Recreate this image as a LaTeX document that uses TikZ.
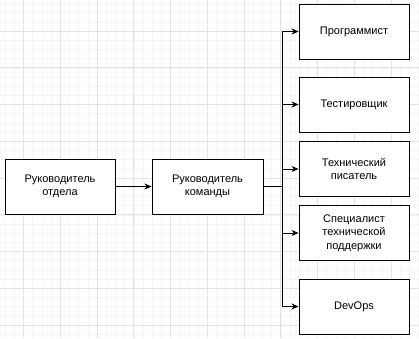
\documentclass[tikz,border=0pt]{standalone}
\usepackage{fontspec}
\setmainfont{Liberation Sans}
\usetikzlibrary{arrows.meta}

\begin{document}
\begin{tikzpicture}[x=1pt, y=-1pt,
  role/.style={draw=black, line width=1pt, fill=white, minimum width=110pt, minimum height=55pt,
    align=center, inner sep=2pt, font=\fontsize{11}{13.5}\selectfont},
  link/.style={line width=1pt, -{Stealth[length=7pt,width=6pt]}}]

\useasboundingbox (0,0) rectangle (419,338);

% grid
\foreach \k in {0,...,45} {
  \draw[black!4, line width=0.5pt] ({5.125+9.1875*\k},0) -- ++(0,338);
}
\foreach \k in {0,...,36} {
  \draw[black!4, line width=0.5pt] (0,{3.4375+9.1875*\k}) -- ++(419,0);
}
\foreach \k in {0,...,10} {
  \draw[black!11, line width=0.6pt] ({23.5+36.75*\k},0) -- ++(0,338);
}
\foreach \k in {0,...,8} {
  \draw[black!11, line width=0.6pt] (0,{31+36.75*\k}) -- ++(419,0);
}

% boxes
\node[role] (dept) at (60,186.5) {Руководитель\\отдела};
\node[role, minimum width=111pt] (team) at (207.5,186.5) {Руководитель\\команды};
\node[role] (prog) at (354,31.5) {Программист};
\node[role] (test) at (354,104.5) {Тестировщик};
\node[role] (writer) at (354,169) {Технический\\писатель};
\node[role] (support) at (354,233) {Специалист\\технической\\поддержки};
\node[role] (devops) at (354,306.5) {DevOps};

\coordinate (split) at (282,186.5);

% links
\draw[link] (dept) -- (team);
\draw[link] (team.east) -- (split) |- (prog.west);
\draw[link] (split) |- (test.west);
\draw[link] (split) |- (writer.west);
\draw[link] (split) |- (support.west);
\draw[link] (split) |- (devops.west);

\end{tikzpicture}
\end{document}
